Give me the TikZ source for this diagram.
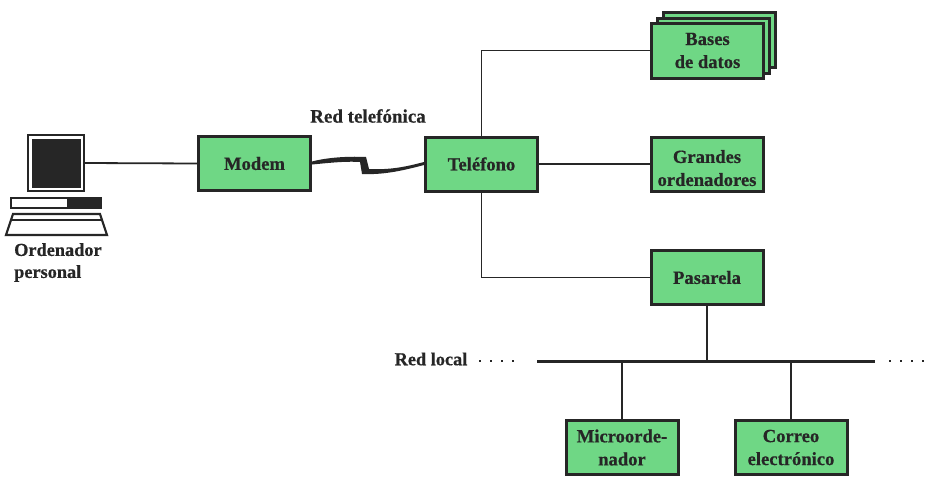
\documentclass[tikz,border=0pt]{standalone}
\usepackage{fontspec}
\setmainfont[BoldFeatures={FakeBold=0.6}]{Liberation Serif}
\definecolor{boxgreen}{HTML}{6FD785}
\definecolor{ink}{HTML}{262626}
\tikzset{
  x=1pt,y=-1pt,
  box/.style={draw=ink,line width=3pt,fill=boxgreen,minimum width=112pt,minimum height=54pt,inner sep=0pt,align=center,text=ink,font=\bfseries\fontsize{18.6}{23}\selectfont},
  lbl/.style={text=ink,font=\bfseries\fontsize{18.3}{22}\selectfont,inner sep=0pt,align=left},
  wire/.style={draw=ink,line width=1.8pt},
  bus/.style={draw=ink,line width=3pt},
  dots/.style={draw=ink,line width=2.2pt,dash pattern=on 2.2pt off 8.8pt},
  pcpart/.style={draw=ink,line width=2.2pt,fill=white},
}
\begin{document}
\begin{tikzpicture}
\useasboundingbox (0,0) rectangle (931,477);
\fill[white] (0,0) rectangle (931,477);
% computer
\node[pcpart,minimum width=56pt,minimum height=56pt,inner sep=0pt] (monitor) at (56,163) {};
\fill[ink] (32,139) rectangle (81,188);
\draw[pcpart] (11,198) rectangle (101,208);
\fill[ink] (67,199) rectangle (100,207);
\draw[pcpart] (13,214) -- (100,214) -- (107,235) -- (6,235) -- cycle;
\draw[ink,line width=1.5pt] (11,220) -- (102,220);
\node[lbl,anchor=north west] (pc) at (14,243) {Ordenador\\personal};
% boxes
\node[box] (modem) at (254.5,163.5) {Modem};
\node[box] (tel) at (481.5,164) {Teléfono};
\node[box,minimum height=55pt] (b3) at (719,40) {};
\node[box,minimum height=55pt] (b2) at (713,46) {};
\node[box,minimum height=55pt] (bases) at (707.5,50.5) {Bases\\de datos};
\node[box] (grandes) at (707,164) {\rule{0pt}{21pt}Grandes\\ordenadores};
\node[box] (pasarela) at (707,277.5) {Pasarela};
\node[box] (micro) at (622,447.5) {Microorde-\\nador};
\node[box] (correo) at (791,447.5) {Correo\\electrónico};
% connectors
\draw[wire] (monitor.east) -- (modem.west);
\fill[ink] ([yshift=2pt]modem.east) .. controls (325,158) and (345,156) .. (366,157)
  -- (369,169) .. controls (390,170) and (405,167) .. ([yshift=2pt]tel.west)
  -- ([yshift=-1pt]tel.west) .. controls (405,170) and (385,175) .. (362,174)
  -- (360,162) .. controls (345,161) and (328,163) .. ([yshift=-1pt]modem.east) -- cycle;
\draw[wire] (tel.north) |- (bases.west);
\draw[wire] (tel.east) -- (grandes.west);
\draw[wire] (tel.south) |- (pasarela.west);
\coordinate (busL) at (537,361);
\coordinate (busR) at (875,361);
\coordinate (dotsLa) at (479,361);
\coordinate (dotsLb) at (515,361);
\coordinate (dotsRa) at (889,361);
\coordinate (dotsRb) at (931,361);
\draw[bus] (busL) -- (busR);
\draw[dots] (dotsLa) -- (dotsLb);
\draw[dots] (dotsRa) -- (dotsRb);
\draw[wire,line width=2.4pt] (pasarela.south) -- (pasarela.south |- busL);
\draw[wire,line width=2.4pt] (micro.north) -- (micro.north |- busL);
\draw[wire,line width=2.4pt] (correo.north) -- (correo.north |- busL);
\node[lbl,font=\bfseries\fontsize{19}{22}\selectfont] (redtel) at (368,116) {Red telefónica};
\node[lbl] (redlocal) at (431,359) {Red local};
\end{tikzpicture}
\end{document}
